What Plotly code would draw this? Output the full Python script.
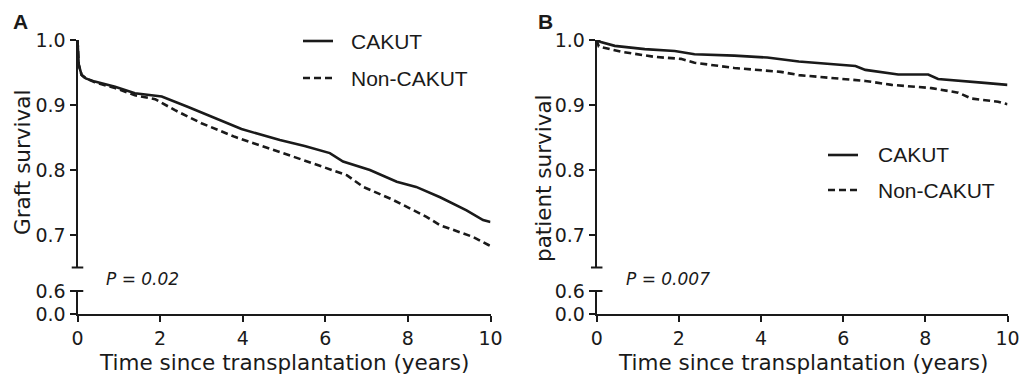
import plotly.graph_objects as go

# ---------------- data ----------------
years_ticks = [0, 2, 4, 6, 8, 10]
upper_ticks = [0.7, 0.8, 0.9, 1.0]
upper_ticktext = ["0.7", "0.8", "0.9", "1.0"]
lower_ticks = [0.0, 0.6]
lower_ticktext = ["0.0", "0.6"]

graft_t_cakut = [0, 0.03, 0.1, 0.2, 0.42, 0.91, 1.39, 2.04, 2.68, 3.33, 3.97, 4.90,
                 5.5, 6.11, 6.43, 7.08, 7.73, 8.2, 8.78, 9.42, 9.82, 10.0]
graft_s_cakut = [1.0, 0.962, 0.946, 0.941, 0.936, 0.928, 0.918, 0.913, 0.897, 0.880, 0.863, 0.846,
                 0.837, 0.826, 0.813, 0.800, 0.782, 0.774, 0.758, 0.738, 0.723, 0.720]
graft_t_non = [0, 0.03, 0.1, 0.2, 0.42, 0.91, 1.39, 1.88, 2.36, 3.0, 3.81, 4.9,
               5.71, 6.52, 6.92, 7.64, 8.45, 8.78, 9.58, 9.94, 10.0]
graft_s_non = [1.0, 0.962, 0.946, 0.941, 0.935, 0.926, 0.915, 0.909, 0.892, 0.872, 0.851, 0.828,
               0.810, 0.792, 0.774, 0.754, 0.728, 0.715, 0.697, 0.685, 0.683]

pat_t_cakut = [0, 0.1, 0.44, 1.17, 1.9, 2.38, 3.35, 4.15, 4.92, 6.3, 6.54, 7.34, 8.07, 8.31, 9.44, 10.0]
pat_s_cakut = [1.0, 0.997, 0.991, 0.986, 0.983, 0.978, 0.976, 0.973, 0.967, 0.960, 0.954, 0.947,
               0.947, 0.940, 0.934, 0.931]
pat_t_non = [0, 0.05, 0.6, 1.41, 2.05, 2.38, 3.35, 3.99, 4.48, 4.92, 6.54, 7.18, 8.15, 8.8, 9.12, 9.77, 10.0]
pat_s_non = [1.0, 0.990, 0.982, 0.974, 0.971, 0.965, 0.957, 0.954, 0.951, 0.946, 0.937, 0.931,
             0.926, 0.919, 0.910, 0.905, 0.901]

series_names = ["CAKUT", "Non-CAKUT"]
p_value_a = "P = 0.02"
p_value_b = "P = 0.007"

# ---------------- styling ----------------
W, H = 1020, 384
INK = "#1a1a1a"
TICKFONT = dict(family="DejaVu Sans", size=19, color=INK)
TITLEFONT = dict(family="DejaVu Sans", size=21.5, color=INK)
LEGFONT = dict(family="Liberation Sans", size=21, color=INK)
DASH = "7px,4px"
LW = 2.6

def px2x(p):
    return p / W

def py2y(p):
    return 1 - p / H

xa_dom = [px2x(77.5), px2x(490.5)]
xb_dom = [px2x(596.7), px2x(1007.5)]
up_dom = [py2y(267.5), py2y(40)]
lo_dom = [py2y(314), py2y(291)]

fig = go.Figure()

def add_pair(tc, sc, tn, sn, xref, yref, ylow):
    fig.add_trace(go.Scatter(x=tc, y=sc, mode="lines", name=series_names[0],
                             line=dict(color=INK, width=LW), xaxis=xref, yaxis=yref,
                             showlegend=False))
    fig.add_trace(go.Scatter(x=tn, y=sn, mode="lines", name=series_names[1],
                             line=dict(color=INK, width=LW, dash=DASH), xaxis=xref, yaxis=yref,
                             showlegend=False))
    # lower (broken) part of the axis: the curves never reach it, an empty trace creates the subplot
    fig.add_trace(go.Scatter(x=[], y=[], mode="lines", xaxis=xref, yaxis=ylow,
                             showlegend=False, hoverinfo="skip"))

add_pair(graft_t_cakut, graft_s_cakut, graft_t_non, graft_s_non, "x", "y", "y2")
add_pair(pat_t_cakut, pat_s_cakut, pat_t_non, pat_s_non, "x2", "y3", "y4")

axis_common = dict(showline=True, linecolor=INK, linewidth=2, ticks="outside",
                   tickcolor=INK, tickwidth=2, ticklen=6, showgrid=False, zeroline=False,
                   tickfont=TICKFONT, automargin=False, ticklabeloverflow="allow")

fig.update_layout(
    width=W, height=H, margin=dict(l=0, r=0, t=0, b=0, autoexpand=False),
    paper_bgcolor="white", plot_bgcolor="white",
    showlegend=False,
    xaxis=dict(domain=xa_dom, range=[0, 10], tickvals=years_ticks, anchor="y2", **axis_common),
    xaxis2=dict(domain=xb_dom, range=[0, 10], tickvals=years_ticks, anchor="y4", **axis_common),
    yaxis=dict(domain=up_dom, range=[0.65, 1.0], tickvals=upper_ticks, ticktext=upper_ticktext,
               anchor="x", **axis_common),
    yaxis2=dict(domain=lo_dom, range=[0, 0.6], tickvals=lower_ticks, ticktext=lower_ticktext,
                anchor="x", **axis_common),
    yaxis3=dict(domain=up_dom, range=[0.65, 1.0], tickvals=upper_ticks, ticktext=upper_ticktext,
                anchor="x2", **axis_common),
    yaxis4=dict(domain=lo_dom, range=[0, 0.6], tickvals=lower_ticks, ticktext=lower_ticktext,
                anchor="x2", **axis_common),
)

shapes = []
# axis-break caps
for xd, yu, yl in [("x domain", "y domain", "y2 domain"), ("x2 domain", "y3 domain", "y4 domain")]:
    shapes.append(dict(type="line", xref=xd, yref=yu, x0=-0.014, x1=0.014, y0=0, y1=0,
                       line=dict(color=INK, width=2)))
    shapes.append(dict(type="line", xref=xd, yref=yl, x0=-0.014, x1=0.014, y0=1, y1=1,
                       line=dict(color=INK, width=2)))

ann = []
# legends (line sample + label)
def legend_block(x_line0, y_first, y_second, x_text):
    for name, yy, dash in [(series_names[0], y_first, "solid"), (series_names[1], y_second, DASH)]:
        shapes.append(dict(type="line", xref="paper", yref="paper",
                           x0=px2x(x_line0), x1=px2x(x_line0 + 30), y0=py2y(yy), y1=py2y(yy),
                           line=dict(color=INK, width=LW, dash=dash)))
        ann.append(dict(text=name, x=px2x(x_text), y=py2y(yy), xref="paper", yref="paper",
                        xanchor="left", yanchor="middle", showarrow=False, font=LEGFONT))

legend_block(303, 41, 78, 349)
legend_block(828, 155, 190, 876)

ann.append(dict(text="<b>A</b>", x=px2x(11), y=py2y(22), xref="paper", yref="paper",
                xanchor="left", yanchor="middle", showarrow=False,
                font=dict(family="Liberation Sans", size=21, color=INK)))
ann.append(dict(text="<b>B</b>", x=px2x(536), y=py2y(22), xref="paper", yref="paper",
                xanchor="left", yanchor="middle", showarrow=False,
                font=dict(family="Liberation Sans", size=21, color=INK)))
ann.append(dict(text="Graft survival", x=px2x(22), y=py2y(163), xref="paper", yref="paper",
                textangle=-90, showarrow=False, xanchor="center", yanchor="middle", font=TITLEFONT))
ann.append(dict(text="patient survival", x=px2x(543), y=py2y(178), xref="paper", yref="paper",
                textangle=-90, showarrow=False, xanchor="center", yanchor="middle", font=TITLEFONT))
ann.append(dict(text="Time since transplantation (years)", x=px2x(284), y=py2y(362),
                xref="paper", yref="paper", showarrow=False, xanchor="center", yanchor="middle",
                font=TITLEFONT))
ann.append(dict(text="Time since transplantation (years)", x=px2x(803), y=py2y(362),
                xref="paper", yref="paper", showarrow=False, xanchor="center", yanchor="middle",
                font=TITLEFONT))
ann.append(dict(text="<i>" + p_value_a + "</i>", x=px2x(104), y=py2y(279), xref="paper", yref="paper",
                showarrow=False, xanchor="left", yanchor="middle",
                font=dict(family="DejaVu Sans", size=17, color=INK)))
ann.append(dict(text="<i>" + p_value_b + "</i>", x=px2x(624), y=py2y(279), xref="paper", yref="paper",
                showarrow=False, xanchor="left", yanchor="middle",
                font=dict(family="DejaVu Sans", size=17, color=INK)))

fig.update_layout(shapes=shapes, annotations=ann)

fig.write_html("out.html")
